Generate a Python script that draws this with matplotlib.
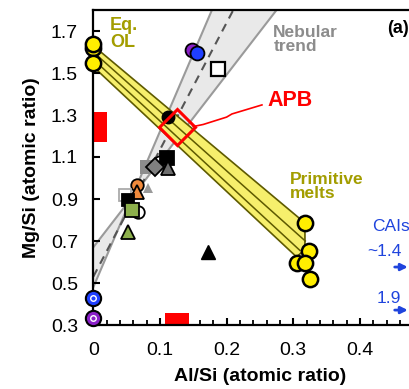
import numpy as np
import matplotlib
matplotlib.use("Agg")
import matplotlib.pyplot as plt

plt.rcParams['font.family'] = ['Liberation Sans', 'DejaVu Sans']

# nebular trend band (two crossing lines + dashed centre), end points
neb_line_x = [0.0, 0.30]
neb_upper = [0.67, 1.903]
neb_lower = [0.48, 2.705]
neb_mid = [0.53, 2.344]

# primitive melts / Eq. OL band
band_x = [0.0, 0.3175, 0.3175, 0.305, 0.0]
band_y = [1.63, 0.786, 0.66, 0.624, 1.53]
band_in1_x = [0.0, 0.318]
band_in1_y = [1.60, 0.70]
band_in2_x = [0.0, 0.310]
band_in2_y = [1.565, 0.655]

# yellow dots
eqol_x = [0.0, 0.0, 0.0]
eqol_y = [1.62, 1.55, 1.64]
melt_x = [0.3175, 0.3235, 0.3055, 0.3175, 0.325]
melt_y = [0.786, 0.652, 0.595, 0.595, 0.519]

# chondrite-like points along the nebular trend
neb_x = [0.0805, 0.100, 0.111, 0.0925, 0.112, 0.082, 0.0655, 0.0655,
         0.0475, 0.052, 0.067, 0.058, 0.052]
neb_y = [1.052, 1.076, 1.095, 1.052, 1.048, 0.952, 0.967, 0.933,
         0.919, 0.895, 0.838, 0.848, 0.743]
neb_marker = ['s', 'o', 's', 'D', '^', '^', 'o', '^', 's', 's', 'o', 's', '^']
neb_face = ['#8c8c8c', 'white', 'black', '#808080', '#6e6e6e', '#9a9a9a',
            '#f08a3c', '#f08a3c', 'white', 'black', 'white', '#8db04c', '#8db04c']
neb_edge = ['none', 'black', 'black', 'black', 'black', 'none',
            'black', 'black', '#aaaaaa', 'black', 'black', 'black', 'black']
neb_size = [10, 9, 10, 9, 10, 7, 9, 10, 9, 8, 9, 10, 10]

# other single points
blk_circle = (0.112, 1.29)
purple_pt = (0.148, 1.61)
blue_pt = (0.156, 1.595)
blk_tri = (0.172, 0.65)
open_sq = (0.187, 1.52)
ring_x = [0.0, 0.0]
ring_y = [0.429, 0.333]
ring_col = ['#1f3fff', '#8a1fc8']

# APB
apb = (0.1255, 1.243)
apb_line_x = [0.150, 0.165, 0.200, 0.208, 0.253]
apb_line_y = [1.245, 1.255, 1.29, 1.305, 1.348]

# red boxes (x0, x1, y0, y1)
red_left = [0.0, 0.0205, 1.171, 1.314]
red_bottom = [0.1075, 0.1435, 0.30, 0.357]

# CAIs arrows
cai_y = [0.576, 0.371]
cai_lab = ['~1.4', '1.9']

fig = plt.figure(figsize=(4.09, 3.89), dpi=100)
ax = fig.add_axes([93.3 / 409, 64 / 389, 333.3 / 409, 315 / 389])
ax.set_xlim(0, 0.5)
ax.set_ylim(0.3, 1.8)

# nebular band
ax.fill_between(neb_line_x, neb_upper, neb_lower, color='#e9e9e9', lw=0, zorder=1)
ax.plot(neb_line_x, neb_upper, color='#9a9a9a', lw=1.5, zorder=1.2)
ax.plot(neb_line_x, neb_lower, color='#9a9a9a', lw=1.5, zorder=1.2)
ax.plot(neb_line_x, neb_mid, color='#555555', lw=1.5, ls=(0, (4, 3)), zorder=1.3)

# yellow band
ax.fill(band_x, band_y, facecolor='#f6ef6c', edgecolor='#5e5a00', lw=1.2, zorder=1.5)
ax.plot(band_in1_x, band_in1_y, color='#5e5a00', lw=1.1, zorder=1.6)
ax.plot(band_in2_x, band_in2_y, color='#5e5a00', lw=1.1, zorder=1.6)

# red boxes
for r in (red_left, red_bottom):
    ax.bar(r[0], r[3] - r[2], width=r[1] - r[0], bottom=r[2], align='edge',
           color='#ff0000', lw=0, zorder=1.8, clip_on=False)

# markers
for i in range(len(neb_x)):
    ax.plot(neb_x[i], neb_y[i], marker=neb_marker[i], ms=neb_size[i],
            mfc=neb_face[i], mec=neb_edge[i], mew=1.3, ls='none', zorder=3)

ax.plot(*blk_circle, marker='o', ms=9, mfc='black', mec='black', zorder=3)
ax.plot(*purple_pt, marker='o', ms=10, mfc='#8a1fc8', mec='black', mew=1.3, zorder=3)
ax.plot(*blue_pt, marker='o', ms=10, mfc='#1f3fff', mec='black', mew=1.3, zorder=3)
ax.plot(*blk_tri, marker='^', ms=10, mfc='black', mec='black', zorder=3)
ax.plot(*open_sq, marker='s', ms=10, mfc='white', mec='black', mew=1.6, zorder=3)

for x, y, c in zip(ring_x, ring_y, ring_col):
    ax.plot(x, y, marker='o', ms=11, mfc=c, mec='black', mew=1.5, zorder=4, clip_on=False)
    ax.plot(x, y, marker='o', ms=4, mfc=c, mec='white', mew=1.0, zorder=4.1, clip_on=False)

ax.plot(eqol_x, eqol_y, marker='o', ms=11, mfc='#ffee00', mec='black', mew=1.8,
        ls='none', zorder=4, clip_on=False)
ax.plot(melt_x, melt_y, marker='o', ms=11, mfc='#ffee00', mec='black', mew=1.8,
        ls='none', zorder=4)

ax.plot(*apb, marker='D', ms=18, mfc='none', mec='#ff0000', mew=2.2, zorder=5)
ax.plot(apb_line_x, apb_line_y, color='#ff0000', lw=1.2, zorder=5)

# arrows to CAIs
for y in cai_y:
    ax.annotate('', xy=(0.476, y), xytext=(0.448, y),
                arrowprops=dict(arrowstyle='-|>', color='#1f44dd', lw=2,
                                mutation_scale=10), annotation_clip=False)

# text
olive = '#a39d00'
ax.text(0.025, 1.765, 'Eq.\nOL', color=olive, fontsize=13, fontweight='bold',
        ha='left', va='top', linespacing=0.95)
ax.text(0.27, 1.73, 'Nebular\ntrend', color='#8c8c8c', fontsize=12.5,
        fontweight='bold', ha='left', va='top', linespacing=0.95)
ax.text(0.474, 1.71, '(a)', color='black', fontsize=13, fontweight='bold',
        ha='right', va='center')
ax.text(0.295, 1.367, 'APB', color='#ff0000', fontsize=15.5, fontweight='bold',
        ha='center', va='center')
ax.text(0.295, 1.03, 'Primitive\nmelts', color=olive, fontsize=12.5,
        fontweight='bold', ha='left', va='top', linespacing=0.95)
ax.text(0.418, 0.771, 'CAIs', color='#1f44dd', fontsize=12.5, ha='left', va='center')
ax.text(0.411, 0.648, cai_lab[0], color='#1f44dd', fontsize=12.5, ha='left', va='center')
ax.text(0.425, 0.424, cai_lab[1], color='#1f44dd', fontsize=12.5, ha='left', va='center')

# axes styling
ax.set_xticks([0, 0.1, 0.2, 0.3, 0.4])
ax.set_xticklabels(['0', '0.1', '0.2', '0.3', '0.4'])
ax.set_xticks(np.arange(0, 0.5, 0.02), minor=True)
ax.set_yticks([0.3, 0.5, 0.7, 0.9, 1.1, 1.3, 1.5, 1.7])
ax.tick_params(axis='both', which='major', direction='in', length=5, width=1.5,
               labelsize=14)
ax.tick_params(axis='x', which='major', pad=12)
ax.tick_params(axis='y', which='major', pad=11)
ax.tick_params(axis='x', which='minor', direction='in', length=3.5, width=1.3)
for s in ax.spines.values():
    s.set_linewidth(1.6)

ax.set_xlabel('Al/Si (atomic ratio)', fontsize=14, fontweight='bold', labelpad=7)
ax.set_ylabel('Mg/Si (atomic ratio)', fontsize=14, fontweight='bold', labelpad=8)

fig.savefig('out.png', dpi=100)
